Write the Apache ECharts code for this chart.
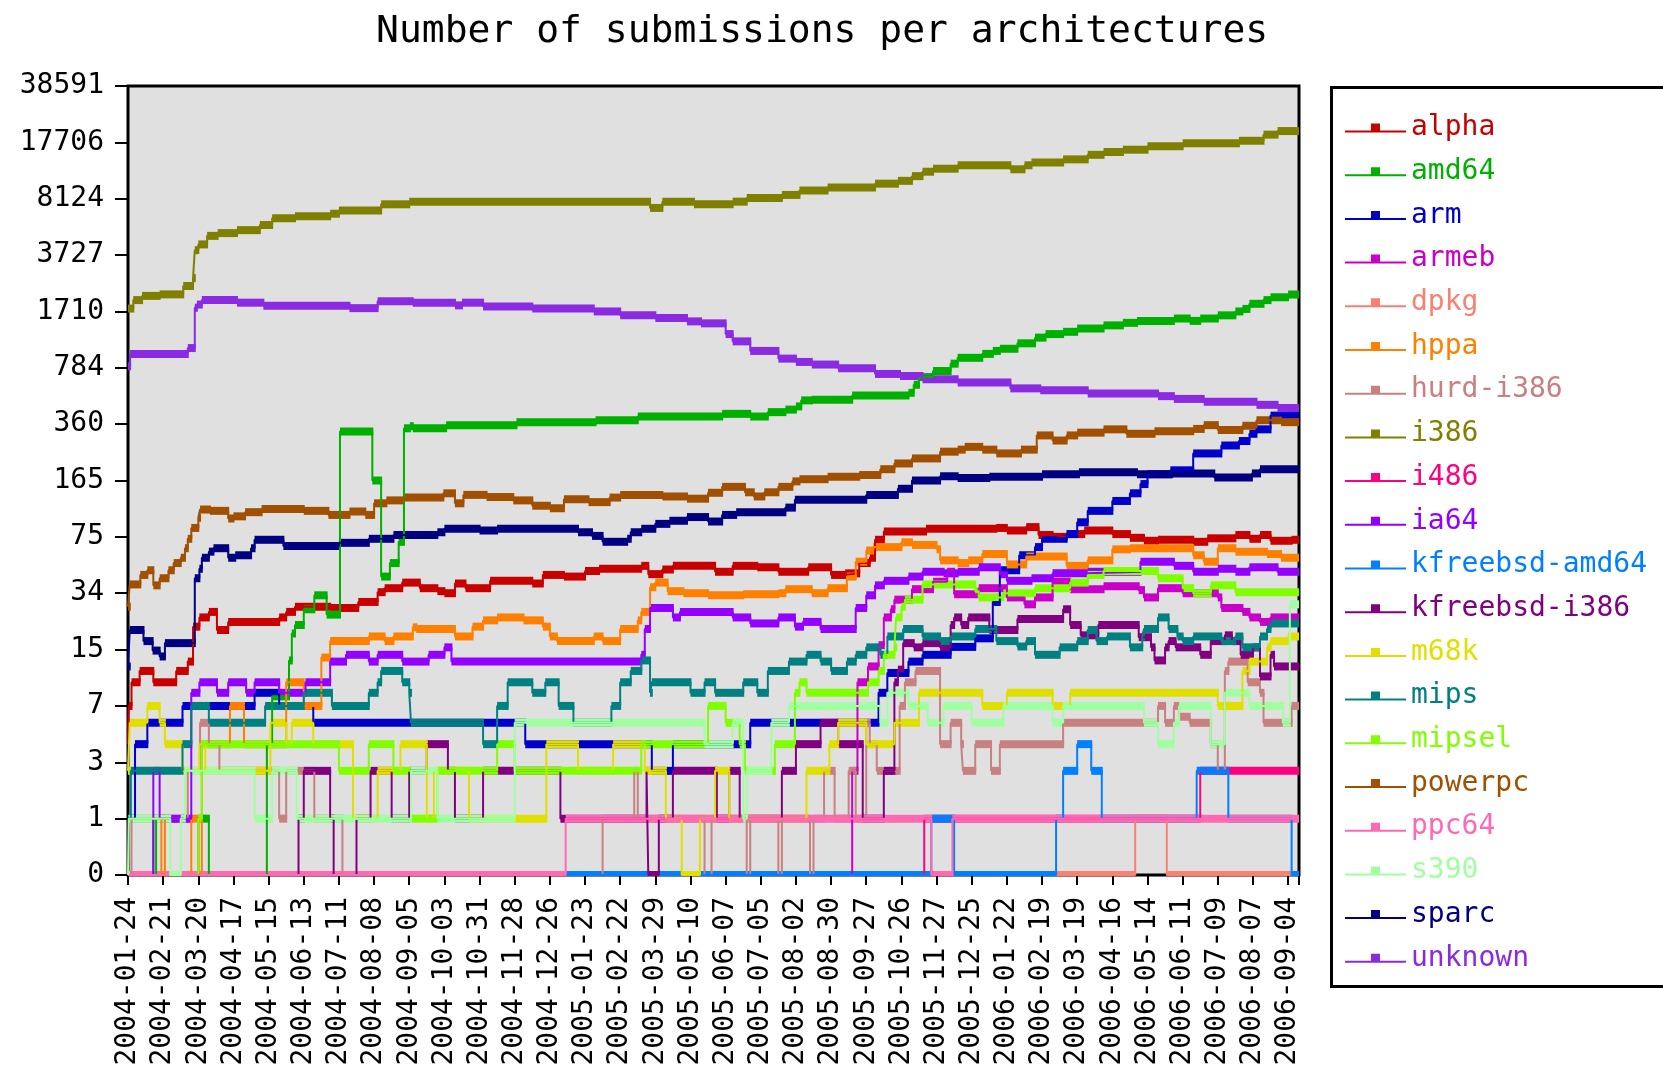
<!DOCTYPE html>
<html>
<head>
<meta charset="UTF-8">
<title>Number of submissions per architectures</title>
<script src="https://cdn.jsdelivr.net/npm/echarts@6/dist/echarts.min.js"></script>
<style>html,body{margin:0;padding:0;background:#fff;}</style>
</head>
<body>
<div id="main" style="width:1663px;height:1071px;"></div>
<script type="text/javascript">
// tick labels of the (log-like) y axis, evenly spaced
var yTicks = [0, 1, 3, 7, 15, 34, 75, 165, 360, 784, 1710, 3727, 8124, 17706, 38591];
// x tick labels, one per unit on the x axis
var dates = ['2004-01-24','2004-02-21','2004-03-20','2004-04-17','2004-05-15','2004-06-13','2004-07-11',
  '2004-08-08','2004-09-05','2004-10-03','2004-10-31','2004-11-28','2004-12-26','2005-01-23','2005-02-22',
  '2005-03-29','2005-05-10','2005-06-07','2005-07-05','2005-08-02','2005-08-30','2005-09-27','2005-10-26',
  '2005-11-27','2005-12-25','2006-01-22','2006-02-19','2006-03-19','2006-04-16','2006-05-14','2006-06-11',
  '2006-07-09','2006-08-07','2006-09-04'];
var X_END = 33.31;

// each series: [x position (in label units), submissions], value holds until the next point
var alphaData = [[0,4],[0.02,7],[0.1,9.7],[0.33,11.3],[0.72,9.7],[1.37,11.3],[1.7,12.8],[1.85,21],[2.03,24],[2.3,26],[2.53,20],[2.85,22.5],[4.3,24],[4.5,26],[4.75,28],[5.75,27.5],[6.55,30],[7.1,34.5],[7.3,36.5],[7.8,39.5],[8.3,36.5],[8.8,35],[9.0,34],[9.3,39],[9.6,36.5],[10.3,40.5],[11.5,39],[11.8,44],[12.4,43],[13.0,46.5],[13.4,48],[14.6,50],[14.8,44.5],[15.2,47.5],[15.5,50],[16.7,46],[17.2,50],[17.9,49],[18.5,46],[19.35,49],[20.0,44],[20.4,45],[20.8,52],[21.1,56],[21.25,72],[21.5,81],[22.7,84],[24.7,85],[25.0,82],[25.55,86],[25.9,77],[26.3,75],[26.7,78],[27.2,82],[28.0,78],[28.5,74],[28.9,71],[29.3,72],[30.3,70],[30.7,73.5],[31.5,77],[31.9,73],[32.2,77],[32.5,71],[33.1,72]];
var amd64Data = [[0,0],[0.72,1],[0.8,0],[2.0,1],[2.3,0],[3.95,4],[4.1,8],[4.58,13],[4.66,19],[4.75,21.5],[5.0,27],[5.3,33],[5.65,25],[6.03,325],[6.95,165],[7.2,43],[7.45,52],[7.7,70],[7.85,340],[8.02,350],[8.1,340],[9.05,355],[11.05,370],[13.3,380],[14.5,400],[16.9,415],[17.7,400],[18.2,425],[18.7,440],[19.0,460],[19.15,500],[19.45,505],[20.6,535],[22.2,555],[22.35,620],[22.5,690],[22.9,750],[23.4,830],[23.6,900],[24.3,950],[24.6,990],[24.8,1020],[25.3,1100],[25.8,1190],[26.1,1250],[26.6,1290],[27.0,1350],[27.75,1410],[28.3,1460],[28.7,1500],[29.75,1550],[30.2,1500],[30.5,1550],[31.0,1620],[31.5,1710],[31.7,1770],[31.9,1900],[32.3,2000],[32.5,2080],[33.0,2160]];
var armData = [[0,1],[0.2,4],[0.55,5.5],[1.55,7],[3.6,8.4],[4.3,7],[5.27,5.5],[11.3,4],[14.9,2.6],[15.5,4],[17.7,5.5],[21.35,8.4],[21.6,11],[22.2,12.8],[22.6,14],[23.4,15.6],[24.1,17.7],[24.6,30],[24.8,47],[25.35,58],[25.8,65],[26.0,73],[26.7,78],[27.0,92],[27.3,108],[28.0,124],[28.5,138],[28.8,157],[29.0,180],[29.65,190],[30.3,240],[31.1,268],[31.6,285],[31.9,315],[32.1,335],[32.5,405]];
var armebData = [[0,0],[20.6,2.6],[20.75,9.7],[21.05,12],[21.35,16],[21.5,24],[21.7,27],[21.8,31],[22.3,36],[22.9,40],[23.3,46],[23.5,33.5],[24.2,36.5],[25.0,32],[25.5,29],[25.8,32],[26.3,40],[26.8,36],[27.75,37.5],[28.75,35.5],[28.9,32],[29.3,36.5],[30.0,34],[31.0,32],[31.1,27.5],[31.7,26],[31.9,24],[32.2,22.5],[32.5,24]];
var dpkgData = [[0,0],[28.65,1],[29.55,0]];
var hppaData = [[0,0],[0.95,1],[1.05,0],[1.8,1],[2.0,0],[2.1,4],[2.9,7],[3.3,4],[4.5,9.7],[5.0,7],[5.5,13.5],[5.75,17],[6.85,18.2],[7.3,17],[7.55,18.2],[8.1,20.8],[8.2,20.3],[9.3,18.2],[9.8,21],[10.1,23],[10.5,24],[11.25,23],[11.8,21],[12.0,18.2],[12.2,17],[13.25,18.2],[13.5,17],[14.0,20.3],[14.5,23],[14.6,26],[14.85,37],[15.0,39.5],[15.35,35],[15.8,34],[16.5,33],[17.5,33.5],[18.5,34],[18.7,36],[19.45,34],[19.9,36.5],[20.45,43],[20.7,53],[21.0,62],[21.2,65],[22.0,69.5],[22.3,67],[23.0,63],[23.1,54],[23.6,52],[23.9,54],[24.3,59],[25.0,51],[25.55,57],[26.7,50],[27.3,54],[28.0,63],[28.5,64],[30.3,58],[30.6,53],[31.0,64],[31.5,61],[32.4,59],[32.8,56]];
var hurdData = [[0,0],[0.1,1],[1.7,2.6],[2.05,5.5],[2.3,4],[2.6,2.6],[4.3,1],[4.5,2.6],[5.3,1],[6.1,0],[13.5,1],[14.4,2.6],[14.5,1],[16.4,0],[16.6,1],[17.6,0],[17.7,1],[18.5,0],[18.6,1],[19.4,0],[19.5,1],[19.8,2.6],[20.1,1],[20.5,2.6],[20.7,1],[21.0,5.5],[21.1,4],[21.3,2.6],[21.95,7],[22.1,9.7],[22.4,11.3],[23.1,4],[23.4,5.5],[23.7,4],[23.75,2.6],[24.1,4],[24.55,2.6],[24.8,4],[26.6,5.5],[29.3,7],[29.5,5.5],[29.75,7],[29.9,6],[30.2,5.5],[30.8,4],[31.0,2.6],[31.2,11.3],[31.3,12.8],[31.85,9.7],[32.2,8.4],[32.3,5.5],[33.1,7]];
var i386Data = [[0,1780],[0.15,2000],[0.4,2120],[0.9,2165],[1.57,2430],[1.85,2710],[1.9,3990],[2.0,4320],[2.25,4860],[2.55,5050],[3.1,5260],[3.75,5650],[4.1,6200],[4.75,6380],[5.75,6600],[6.0,6900],[7.2,7520],[8.0,7800],[14.85,7150],[15.2,7800],[16.1,7520],[17.2,7800],[17.6,8200],[18.6,8560],[19.1,9100],[19.9,9500],[21.25,10000],[21.9,10400],[22.3,11100],[22.6,11800],[22.9,12300],[23.6,12900],[25.1,12200],[25.5,12900],[25.7,13400],[26.6,14000],[27.3,14900],[27.75,15500],[28.3,16000],[29.0,16800],[30.0,17500],[31.6,18100],[32.3,19700],[32.7,20700]];
var i486Data = [[0,0],[22.65,1],[30.5,2.6]];
var ia64Data = [[0,0],[0.72,2.6],[0.9,1],[1.8,8.4],[2.03,9.7],[2.53,8.4],[2.85,9.7],[3.36,8.4],[3.6,9.7],[4.3,8.4],[5.05,9.7],[5.75,12.8],[6.2,14],[6.85,12.8],[7.1,14],[7.8,12.8],[8.55,14],[9.0,15.5],[9.2,12.8],[14.6,14],[14.7,20.3],[14.85,27.5],[15.5,24],[15.7,26],[17.2,24],[17.7,22],[18.5,24],[18.97,21],[19.2,22.5],[19.7,20.3],[20.7,27.5],[21.0,33],[21.25,38],[21.5,40.5],[22.2,43],[22.6,46],[23.2,45],[23.6,46],[24.2,49],[24.8,44.5],[25.0,40.5],[25.7,42],[26.3,45],[27.3,46],[28.8,53],[29.75,50],[30.3,46],[31.0,48],[31.5,46],[31.9,49],[32.7,46]];
var kfreebsdAmd64Data = [[0,0],[22.85,1],[23.5,0],[26.4,1],[26.6,2.6],[27.0,4],[27.4,2.6],[27.7,1],[30.4,2.6],[31.3,1],[33.1,0]];
var kfreebsdI386Data = [[0,0],[4.85,1],[5.0,2.6],[5.75,1],[5.85,0],[6.5,1],[6.9,2.6],[7.5,1],[8.0,2.6],[8.5,4],[9.1,2.6],[9.3,1],[10.1,2.6],[12.3,1],[14.75,2.6],[14.8,0],[15.1,1],[15.5,2.6],[16.75,1],[17.1,2.6],[17.4,1],[18.6,2.6],[19.0,4],[19.7,5.5],[20.2,4],[20.9,1],[21.5,2.6],[21.8,9.7],[21.9,11.5],[22.05,16.5],[22.35,15.5],[22.6,16.5],[23.1,15.5],[23.4,21.5],[23.5,24],[23.7,21.5],[23.9,24],[24.5,20],[25.3,23.5],[26.6,27],[26.8,21.5],[27.1,18.5],[27.6,21.5],[28.75,18],[29.1,15.5],[29.2,13],[29.5,15.5],[29.6,17],[29.8,15.5],[30.5,14],[30.8,17],[31.2,18.5],[31.4,17],[31.65,14],[32.0,15.5],[32.2,10.5],[32.5,14],[32.6,12]];
var m68kData = [[0,2.6],[0.05,5.5],[0.55,7],[0.9,5.5],[1.05,4],[1.55,2.6],[2.03,4],[2.2,2.6],[4.05,5.5],[4.5,4],[4.66,5.5],[5.27,4],[6.4,1],[7.1,2.6],[7.75,4],[8.5,1],[8.7,2.6],[9.7,1],[11.9,4],[12.8,2.6],[13.8,4],[14.7,2.6],[15.3,1],[15.75,0],[16.27,1],[16.7,2.6],[17.1,1],[19.3,2.6],[19.95,4],[20.2,5.5],[21.0,4],[21.8,5.5],[22.5,8.4],[24.3,7],[25.0,8.4],[26.3,7],[26.8,8.4],[31.0,7],[31.7,11.3],[31.9,12.8],[32.4,15.5],[32.5,17],[33.0,18.2]];
var mipsData = [[0,1],[0.08,2.6],[1.55,4],[1.8,7],[2.3,5.5],[3.9,7],[5.0,8.4],[5.8,7],[6.85,8.4],[7.1,9.7],[7.2,11.3],[7.8,9.7],[8.0,8.4],[8.05,5.5],[10.1,4],[10.5,7],[10.8,9.7],[11.5,8.4],[11.87,9.7],[12.25,7],[12.67,5.5],[13.75,7],[14.0,9.7],[14.3,11.3],[14.6,13],[14.85,8.4],[14.9,9.7],[16.0,8.4],[16.4,9.7],[16.7,8.4],[17.5,9.7],[17.9,8.4],[18.2,11.3],[18.8,12.8],[19.3,14],[19.7,12.8],[20.0,11.3],[20.45,12.8],[20.7,14],[21.0,15.5],[21.4,14],[21.6,18.2],[22.05,20.3],[22.6,18.2],[23.1,17],[23.4,18.2],[24.1,20.3],[24.7,17],[25.3,15.7],[25.55,17],[25.8,14],[26.5,15.5],[27.0,17],[27.3,20],[27.55,17],[27.85,18.2],[28.5,15.5],[28.85,18.2],[28.9,20.3],[29.3,24],[29.6,20.3],[29.85,18.2],[30.0,17],[30.3,18.2],[31.1,17],[31.5,18.2],[31.7,15.5],[32.2,18.2],[32.4,20.3],[32.5,22]];
var mipselData = [[0,0],[2.0,1],[2.1,4],[6.0,2.6],[6.85,4],[7.55,2.6],[8.05,1],[8.8,2.6],[10.5,4],[11.0,2.6],[14.6,4],[16.5,7],[17.0,5.5],[17.4,4],[17.55,2.6],[18.4,4],[18.97,8.4],[19.1,9.7],[19.3,8.4],[21.05,9.7],[21.35,11.3],[21.5,14],[21.8,15.5],[21.85,24],[22.0,28],[22.1,31],[22.6,38.5],[24.1,35],[24.2,32],[24.9,34],[25.8,36.5],[26.8,39.5],[27.3,44],[27.75,46.5],[29.3,42],[30.0,36.5],[30.3,34],[30.8,38],[31.5,34.5]];
var powerpcData = [[0,28],[0.05,38.5],[0.35,44],[0.55,47],[0.72,38],[0.9,42],[1.15,47],[1.3,52],[1.5,56],[1.62,64],[1.7,73],[1.8,85],[2.0,98],[2.05,110],[2.33,108],[2.85,97],[3.0,100],[3.33,106],[3.8,111],[5.0,108],[5.7,102],[6.3,107],[6.75,102],[7.0,120],[7.35,125],[7.85,130],[8.97,138],[9.3,120],[9.54,135],[10.2,131],[10.96,125],[11.5,116],[12.0,112],[12.4,127],[13.1,122],[13.7,130],[14.0,135],[15.2,132],[15.9,128],[16.5,139],[16.9,151],[17.55,140],[17.8,132],[18.1,140],[18.5,151],[18.9,163],[19.1,168],[19.9,174],[20.8,178],[21.4,193],[21.8,209],[22.3,224],[23.1,246],[23.6,253],[23.8,263],[24.3,253],[24.7,240],[25.4,253],[25.85,308],[26.3,287],[26.7,308],[27.0,320],[27.75,335],[28.4,315],[29.2,326],[30.3,337],[30.6,355],[31.0,332],[31.7,352],[32.1,380],[32.8,370]];
var ppc64Data = [[0,0],[12.45,1],[22.85,0],[23.45,1]];
var s390Data = [[0,0],[0.02,1],[1.2,0],[1.5,1],[1.62,2.6],[3.6,1],[4.1,2.6],[4.8,1],[8.05,2.6],[8.8,1],[11.0,5.5],[16.4,4],[17.2,5.5],[17.5,1],[17.6,2.6],[18.3,5.5],[18.8,7],[21.4,5.5],[21.6,8.4],[22.2,7],[22.75,5.5],[23.2,7],[24.0,5.5],[24.9,7],[26.3,5.5],[26.6,7],[28.9,5.5],[29.3,4],[29.75,5.5],[29.9,7],[30.8,4],[31.2,8.4],[31.9,7],[32.85,5.5],[33.05,29]];
var sparcData = [[0,12],[0.05,20],[0.44,17],[0.7,14.8],[0.9,13.7],[1.05,16.5],[1.9,42],[2.03,48],[2.1,56],[2.3,61],[2.43,64],[2.85,56],[3.05,58],[3.5,64],[3.6,72],[4.42,66],[6.0,69],[6.85,73],[7.55,77],[8.8,80],[9.0,84],[10.0,82],[10.5,84],[12.8,80],[13.2,76],[13.5,70],[14.2,73],[14.3,80],[14.6,84],[15.0,90],[15.4,94],[15.9,99],[16.5,93],[16.9,102],[17.3,106],[18.7,113],[18.97,126],[21.0,135],[21.9,147],[22.3,165],[23.1,175],[23.6,171],[24.5,174],[26.0,180],[27.05,185],[28.7,180],[29.7,182],[30.9,172],[31.97,182],[32.2,193]];
var unknownData = [[0,800],[0.06,950],[1.7,1030],[1.9,1800],[1.96,1880],[2.1,2000],[3.1,1930],[3.85,1850],[6.3,1790],[7.1,1970],[8.1,1930],[9.3,1860],[9.5,1930],[10.1,1830],[11.5,1780],[13.25,1710],[14,1620],[15,1560],[15.9,1490],[16.3,1450],[17.0,1250],[17.2,1130],[17.7,990],[18.5,890],[19.0,850],[19.45,820],[20.2,780],[21.25,720],[21.96,700],[22.6,670],[23.6,640],[25.1,590],[25.95,575],[27.3,550],[29.3,530],[29.75,510],[30.6,490],[32.1,470],[32.7,450]];

var names = ['alpha','amd64','arm','armeb','dpkg','hppa','hurd-i386','i386','i486','ia64',
  'kfreebsd-amd64','kfreebsd-i386','m68k','mips','mipsel','powerpc','ppc64','s390','sparc','unknown'];
var colors = ['#c80000','#00b000','#0000c8','#c800c8','#fa8072','#ff8000','#c88080','#808000','#ff0080','#9400ff',
  '#0080ff','#800080','#e0e000','#008080','#80ff00','#a05000','#ff69b4','#a0ffa0','#000080','#8a2be2'];
var allData = [alphaData, amd64Data, armData, armebData, dpkgData, hppaData, hurdData, i386Data, i486Data, ia64Data,
  kfreebsdAmd64Data, kfreebsdI386Data, m68kData, mipsData, mipselData, powerpcData, ppc64Data, s390Data, sparcData, unknownData];

// position on the evenly spaced tick axis (log of value+1 between neighbouring ticks)
function toAxis(v) {
    if (v <= 0) return 0;
    for (var k = 0; k < yTicks.length - 1; k++) {
        if (v <= yTicks[k + 1]) {
            var a = Math.log(yTicks[k] + 1), b = Math.log(yTicks[k + 1] + 1);
            return k + (Math.log(v + 1) - a) / (b - a);
        }
    }
    return yTicks.length - 1;
}

function renderBand(params, api) {
    var a = api.coord([api.value(0), api.value(2)]);
    var b = api.coord([api.value(1), api.value(2)]);
    var cs = params.coordSys;
    var shape = echarts.graphic.clipRectByRect(
        { x: a[0], y: a[1] - 4, width: b[0] - a[0] + 1, height: 8 },
        { x: cs.x, y: cs.y, width: cs.width, height: cs.height });
    if (!shape) return;
    return { type: 'rect', shape: shape, style: { fill: api.visual('color') } };
}

var FONT = 'DejaVu Sans Mono';
var ICON = 'path://M0,7L61,7L61,9L0,9Z M26,0L35,0L35,9L26,9Z';

var series = [];
names.forEach(function (name, i) {
    var pts = allData[i];
    var line = pts.map(function (p) { return [p[0], toAxis(p[1])]; });
    line.push([X_END, toAxis(pts[pts.length - 1][1])]);
    var runs = pts.map(function (p, j) {
        var end = j + 1 < pts.length ? pts[j + 1][0] : X_END;
        return [p[0], end, toAxis(p[1])];
    });
    series.push({
        type: 'line', name: name, step: 'end', data: line, symbol: 'none',
        lineStyle: { width: 2, color: colors[i] }, itemStyle: { color: colors[i] }
    });
    series.push({
        type: 'custom', name: name, data: runs, renderItem: renderBand,
        encode: { x: [0, 1], y: 2 }, itemStyle: { color: colors[i] }
    });
});

var myChart = echarts.init(document.getElementById('main'));
var option = {
    animation: false,
    backgroundColor: '#ffffff',
    title: {
        text: 'Number of submissions per architectures',
        left: 371, top: 8,
        textStyle: { fontFamily: FONT, fontSize: 38, fontWeight: 'normal', color: '#000' }
    },
    grid: {
        left: 128, right: 364, top: 86, bottom: 196,
        show: true, backgroundColor: '#e0e0e0', borderColor: '#000', borderWidth: 3
    },
    legend: {
        orient: 'vertical', left: 1340, top: 109,
        itemWidth: 61, itemHeight: 9, itemGap: 15.7,
        textStyle: { fontFamily: FONT, fontSize: 28, lineHeight: 28 },
        data: names.map(function (n, i) {
            return { name: n, icon: ICON, textStyle: { color: colors[i] } };
        })
    },
    graphic: [{
        type: 'rect', left: 1329, top: 85,
        shape: { width: 345, height: 899 },
        style: { fill: 'none', stroke: '#000', lineWidth: 3 }
    }],
    xAxis: {
        type: 'value', min: 0, max: X_END, interval: 1,
        axisLine: { show: false },
        splitLine: { show: false },
        axisTick: { length: 10, lineStyle: { color: '#000', width: 2 } },
        axisLabel: {
            rotate: 90, margin: 22, color: '#000', fontFamily: FONT, fontSize: 28,
            formatter: function (v) { return dates[v] || ''; }
        }
    },
    yAxis: {
        type: 'value', min: 0, max: yTicks.length - 1, interval: 1,
        axisLine: { show: false },
        splitLine: { show: false },
        axisTick: { length: 13, lineStyle: { color: '#000', width: 2 } },
        axisLabel: {
            margin: 24, color: '#000', fontFamily: FONT, fontSize: 28,
            formatter: function (v) { return yTicks[Math.round(v)]; }
        }
    },
    series: series
};
myChart.setOption(option);
</script>
</body>
</html>
